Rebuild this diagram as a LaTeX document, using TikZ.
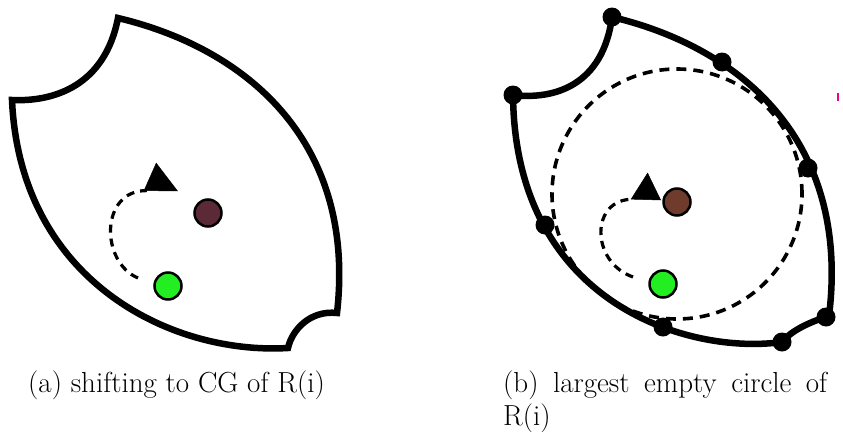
\documentclass[tikz,border=0pt]{standalone}
\usetikzlibrary{arrows.meta}
\definecolor{brownA}{HTML}{5C2A36}
\definecolor{brownB}{HTML}{6E3B2C}
\definecolor{greenDot}{HTML}{22EE22}
\begin{document}
\begin{tikzpicture}[x=1pt,y=-1pt,
  outline/.style={line width=6.5pt, line join=miter},
  vdot/.style={circle, fill=black, inner sep=0pt, minimum size=19pt},
  cgdot/.style={circle, draw=black, line width=2.5pt, inner sep=0pt, minimum size=27pt},
  pathdash/.style={line width=3.2pt, dash pattern=on 8pt off 6pt},
  circdash/.style={draw, circle, line width=3.6pt, dash pattern=on 10pt off 7pt, inner sep=0pt},
  captext/.style={font=\fontsize{29}{35}\selectfont, inner sep=0pt, anchor=base west}]
\useasboundingbox (0,0) rectangle (843,431);
% ---------- (a) ----------
\coordinate (a1) at (118,18);
\coordinate (a2) at (337,313);
\coordinate (a3) at (288,348);
\coordinate (a4) at (12,100);
\draw[outline] (a1) .. controls (252,50) and (356,146) .. (a2)
  .. controls (310,310) and (292,330) .. (a3)
  .. controls (170,355) and (20,280) .. (a4)
  .. controls (55,102) and (105,85) .. cycle;
\node[cgdot, fill=brownA] (ba) at (208,213) {};
\node[cgdot, fill=greenDot] (ga) at (168,286) {};
\coordinate (sa) at (138,278);
\coordinate (ta) at (178,191);
\draw[pathdash, -{Kite[harpoon, length=34pt, width=56pt, inset=12pt, line width=0.5pt]}]
  (sa) .. controls (100,262) and (100,190) .. (ta);
% ---------- (b) ----------
\coordinate (b1) at (612,17);
\coordinate (b2) at (829,316);
\coordinate (b3) at (782,342);
\coordinate (b4) at (513,95);
\draw[outline] (b1) .. controls (746,49) and (850,145) .. (b2)
  .. controls (810,322) and (792,330) .. (b3)
  .. controls (690,355) and (515,305) .. (b4)
  .. controls (555,100) and (603,85) .. cycle;
\node[circdash, minimum size=250pt] (lec) at (677,194) {};
\node[cgdot, fill=brownB] (bb) at (677,202) {};
\node[cgdot, fill=greenDot] (gb) at (663,284) {};
\coordinate (sb) at (633,277);
\coordinate (tb) at (661,200);
\draw[pathdash, -{Kite[harpoon, length=30pt, width=54pt, inset=16pt, line width=0.5pt]}]
  (sb) .. controls (590,262) and (590,198) .. (tb);
\foreach \n/\p in {v1/{(612,17)}, v2/{(513,95)}, v3/{(722,62)}, v4/{(808,168)},
                   v5/{(545,225)}, v6/{(663,327)}, v7/{(782,342)}, v8/{(826,317)}}
  \node[vdot] (\n) at \p {};
\fill[magenta] (837,93) rectangle (839,101);
% ---------- captions ----------
\node[captext] (capa) at (28,392) {(a) shifting to CG of R(i)};
\node[captext] (capb1) at (503,392) {\makebox[324pt][s]{(b) largest empty circle of}};
\node[captext] (capb2) at (503,425) {R(i)};
\end{tikzpicture}
\end{document}
